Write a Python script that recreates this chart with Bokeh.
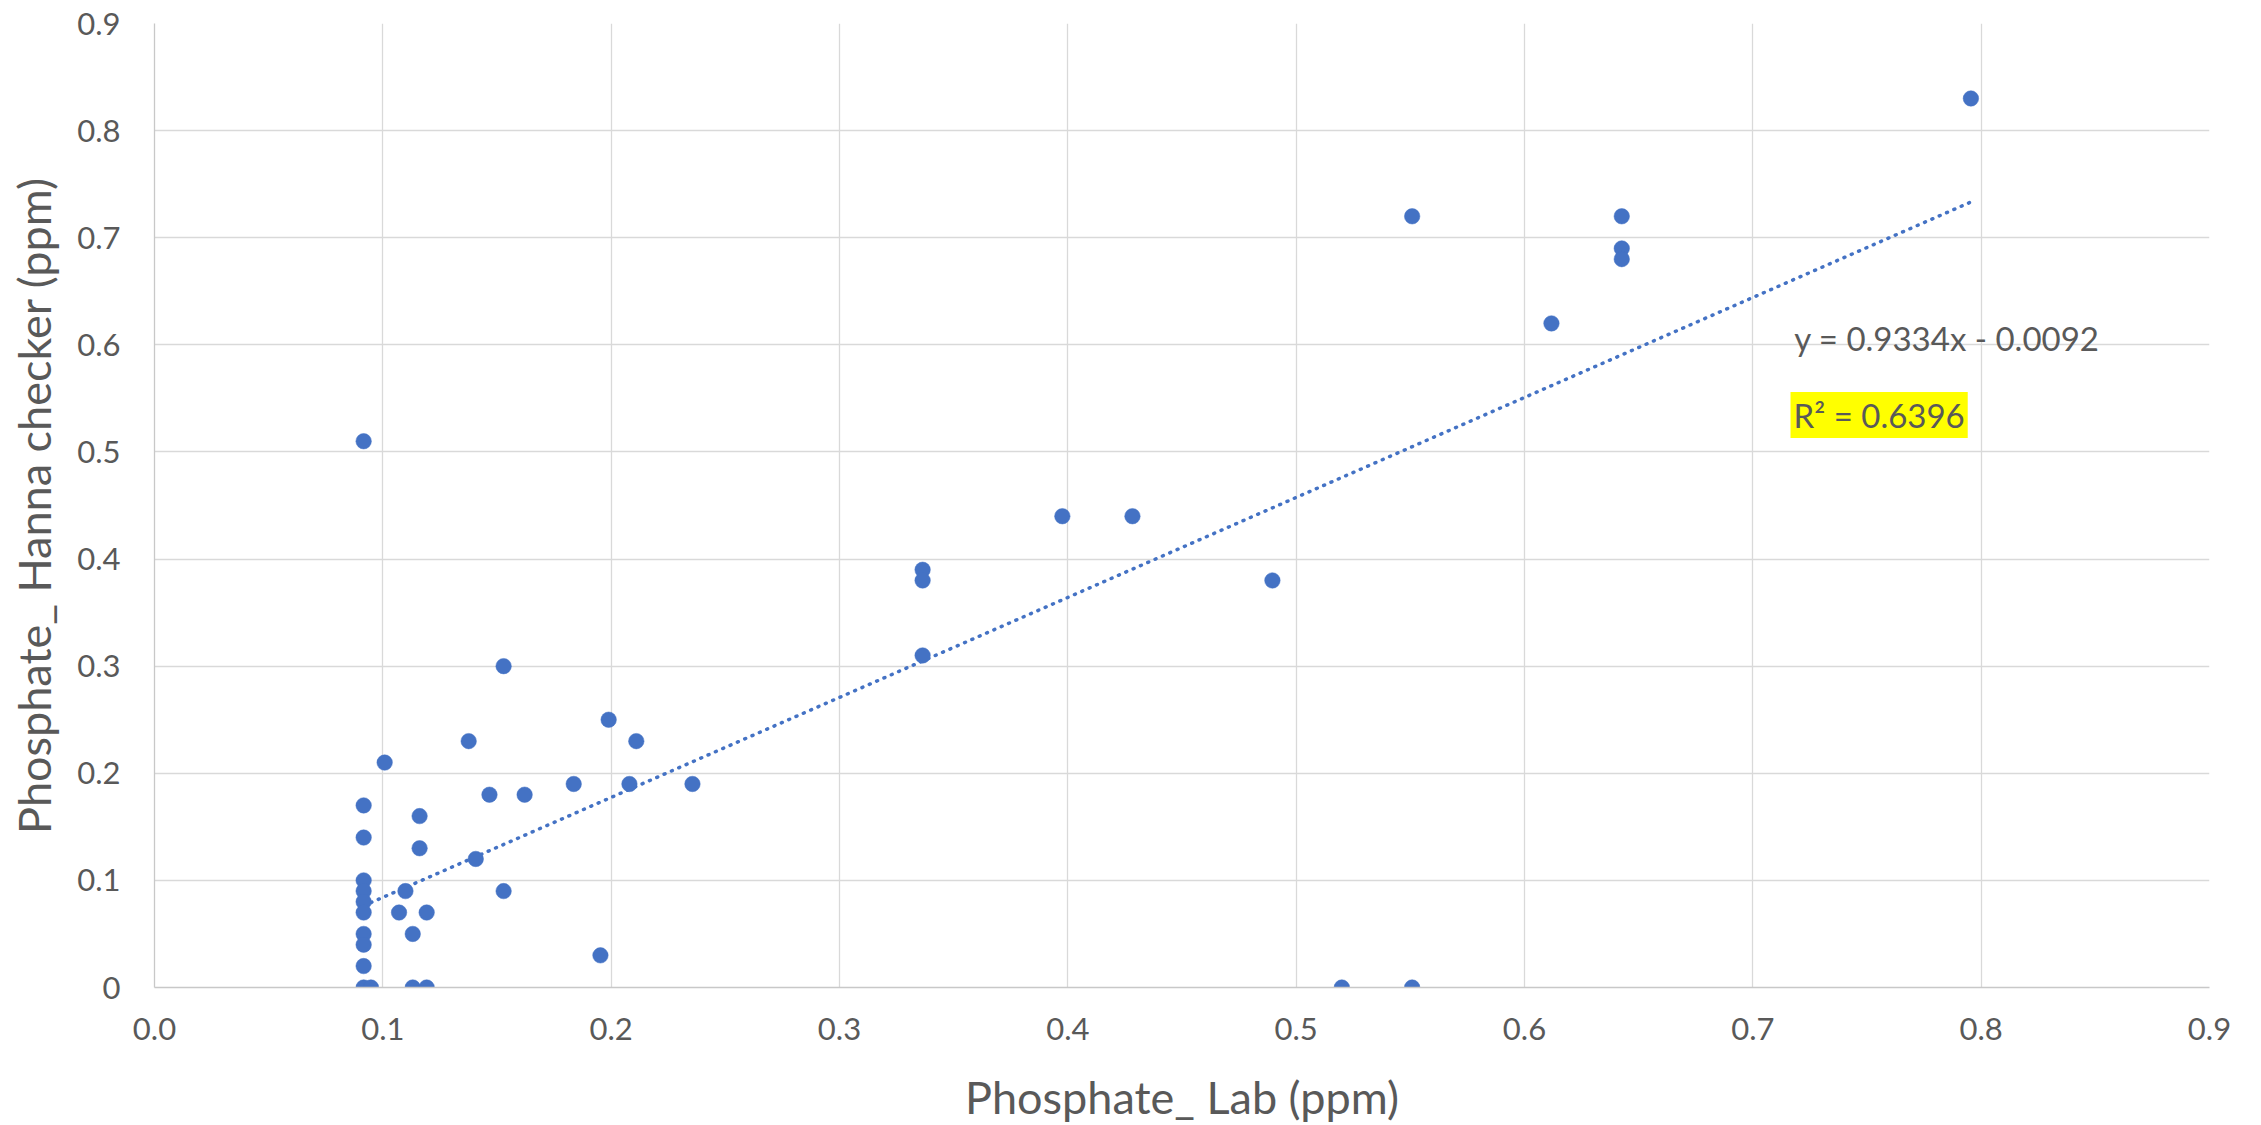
from bokeh.plotting import figure
from bokeh.models import Range1d, FixedTicker, Label, ColumnDataSource
from bokeh.embed import file_html
from bokeh.resources import INLINE

# ---- data ----
lab_ppm = [0.0916, 0.0916, 0.0916, 0.0916, 0.0916, 0.0916, 0.0916, 0.0916, 0.0916, 0.0916, 0.0916,
           0.0948, 0.1008, 0.1071, 0.1099, 0.1131, 0.1131, 0.1161, 0.1161, 0.1192, 0.1192,
           0.1376, 0.1407, 0.1467, 0.1529, 0.1529, 0.1621, 0.1836, 0.1953, 0.1989, 0.2080,
           0.2110, 0.2356, 0.3364, 0.3364, 0.3364, 0.3976, 0.4283, 0.4896, 0.5200, 0.5508,
           0.5508, 0.6118, 0.6426, 0.6426, 0.6426, 0.7955]
hanna_ppm = [0.51, 0.17, 0.14, 0.10, 0.09, 0.08, 0.07, 0.05, 0.04, 0.02, 0.00,
             0.00, 0.21, 0.07, 0.09, 0.05, 0.00, 0.16, 0.13, 0.07, 0.00,
             0.23, 0.12, 0.18, 0.30, 0.09, 0.18, 0.19, 0.03, 0.25, 0.19,
             0.23, 0.19, 0.39, 0.38, 0.31, 0.44, 0.44, 0.38, 0.00, 0.72,
             0.00, 0.62, 0.72, 0.69, 0.68, 0.83]
trend_slope = 0.9334
trend_intercept = -0.0092
equation_text = "y = 0.9334x - 0.0092"
r2_text = "R\u00b2 = 0.6396"

x_ticks = [0.0, 0.1, 0.2, 0.3, 0.4, 0.5, 0.6, 0.7, 0.8, 0.9]
x_tick_labels = ["0.0", "0.1", "0.2", "0.3", "0.4", "0.5", "0.6", "0.7", "0.8", "0.9"]
y_ticks = [0.0, 0.1, 0.2, 0.3, 0.4, 0.5, 0.6, 0.7, 0.8, 0.9]
y_tick_labels = ["0", "0.1", "0.2", "0.3", "0.4", "0.5", "0.6", "0.7", "0.8", "0.9"]
x_title = "Phosphate_ Lab (ppm)"
y_title = "Phosphate_ Hanna checker (ppm)"

# ---- styling ----
FONT = "Lato"
TXT = "#595959"
BLUE = "#4472C4"
GRID = "#d9d9d9"

p = figure(output_backend="svg", toolbar_location=None,
           frame_width=2055, frame_height=964,
           x_range=Range1d(0, 0.9), y_range=Range1d(0, 0.9),
           min_border_left=154, min_border_top=23, min_border_right=36, min_border_bottom=118)
p.outline_line_color = None
p.background_fill_color = "white"
p.border_fill_color = "white"

for ax, ticks, labels in ((p.xaxis[0], x_ticks, x_tick_labels), (p.yaxis[0], y_ticks, y_tick_labels)):
    ax.ticker = FixedTicker(ticks=ticks)
    ax.major_label_overrides = dict(zip(ticks, labels))
    ax.major_tick_line_color = None
    ax.minor_tick_line_color = None
    ax.major_tick_out = 0
    ax.major_tick_in = 0
    ax.axis_line_color = "#c8c8c8"
    ax.axis_line_width = 1.3
    ax.major_label_text_font = FONT
    ax.major_label_text_font_size = "31px"
    ax.major_label_text_color = TXT
    ax.axis_label_text_font = FONT
    ax.axis_label_text_font_size = "45px"
    ax.axis_label_text_font_style = "normal"
    ax.axis_label_text_color = TXT

p.xaxis[0].axis_label = x_title
p.yaxis[0].axis_label = y_title
p.yaxis[0].major_label_standoff = 34
p.xaxis[0].major_label_standoff = 30
p.yaxis[0].axis_label_standoff = 13
p.xaxis[0].axis_label_standoff = 27

p.grid.grid_line_color = GRID
p.grid.grid_line_width = 1.3
p.xgrid.ticker = FixedTicker(ticks=x_ticks)
p.ygrid.ticker = FixedTicker(ticks=y_ticks)

# trendline (linear fit shown in chart)
tx = [min(lab_ppm), max(lab_ppm)]
ty = [trend_slope * v + trend_intercept for v in tx]
p.line(tx, ty, line_color=BLUE, line_width=3.5, line_dash="1 7", line_cap="round")

src = ColumnDataSource(dict(x=lab_ppm, y=hanna_ppm))
p.scatter("x", "y", source=src, size=15.5, fill_color=BLUE, line_color=BLUE, line_width=0.5)

p.add_layout(Label(x=0.7181, y=0.6065, text=equation_text, text_font=FONT, text_font_size="33px",
                   text_color=TXT, text_baseline="middle", text_align="left"))
p.add_layout(Label(x=0.7165, y=0.5346, text=r2_text, text_font=FONT, text_font_size="33px",
                   text_color=TXT, text_baseline="middle", text_align="left",
                   background_fill_color="#FFFF00", padding=3))

open("out.html", "w").write(file_html(p, INLINE))
